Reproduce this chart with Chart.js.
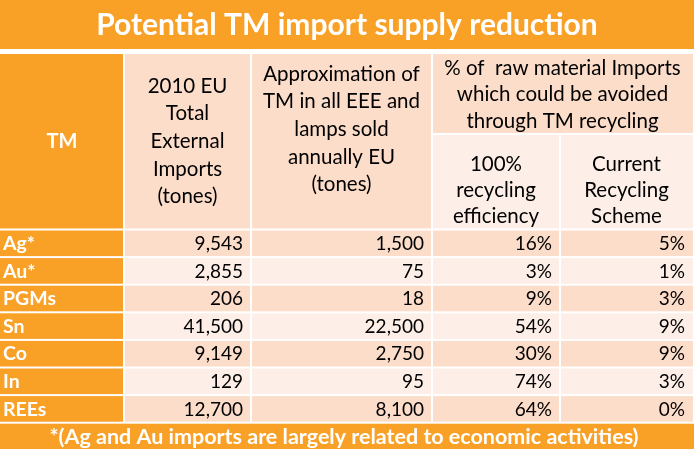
<!DOCTYPE html>
<html>
<head>
<meta charset="utf-8">
<script src="https://cdn.jsdelivr.net/npm/chart.js@4"></script>
<style>
  html, body { margin: 0; padding: 0; background: #fff; }
  #wrap { width: 694px; height: 449px; }
</style>
</head>
<body>
<div id="wrap"><canvas id="myChart" width="694" height="449"></canvas></div>
<script>
// Table data
const title = 'Potential TM import supply reduction';
const footnote = '*(Ag and Au imports are largely related to economic activities)';
const categories = ['Ag*', 'Au*', 'PGMs', 'Sn', 'Co', 'In', 'REEs'];
const imports2010 = [9543, 2855, 206, 41500, 9149, 129, 12700];
const eeeTonnes = [1500, 75, 18, 22500, 2750, 95, 8100];
const pctFull = [16, 3, 9, 54, 30, 74, 64];
const pctCurrent = [5, 1, 3, 9, 9, 3, 0];

const headTM = ['TM'];
const headImports = ['2010 EU', 'Total', 'External', 'Imports', '(tones)'];
const headEEE = ['Approximation of', 'TM in all EEE and', 'lamps sold', 'annually EU', '(tones)'];
const headPct = ['% of  raw material Imports', 'which could be avoided', 'through TM recycling'];
const headFull = ['100%', 'recycling', 'efficiency'];
const headCurrent = ['Current', 'Recycling', 'Scheme'];

// layout (in the scale's units)
const colEdges = [0, 124, 251, 432, 560, 693];
const titleBottom = 49;
const headTop = 54, headMid = 134, headBottom = 229.5;
const rowH = 27.6;
const footTop = headBottom + rowH * categories.length;

const ORANGE = '#F9A026';
const PEACH = '#FCDDCA';
const LIGHT = '#FDEFE7';
const FONT = 'Lato, "Open Sans", sans-serif';

const tablePlugin = {
  id: 'tablePlugin',
  afterDraw(chart) {
    const ctx = chart.ctx;
    const xs = chart.scales.x, ys = chart.scales.y;
    const px = v => xs.getPixelForValue(v);
    const py = v => ys.getPixelForValue(v);

    function rect(x0, x1, y0, y1, color) {
      ctx.fillStyle = color;
      ctx.fillRect(px(x0), py(y0), px(x1) - px(x0), py(y1) - py(y0));
    }
    function text(str, x, y, align, font, color) {
      ctx.font = font;
      ctx.fillStyle = color;
      ctx.textAlign = align;
      ctx.textBaseline = 'middle';
      ctx.fillText(str, px(x), py(y));
    }
    function lines(arr, x, y0, step, font, color) {
      arr.forEach((s, i) => text(s, x, y0 + i * step, 'center', font, color));
    }

    ctx.save();
    // title bar
    rect(0, 694, 0, titleBottom, ORANGE);
    text(title, 347, 25, 'center', 'bold 30px ' + FONT, '#fff');

    // header cells
    const g = 1;
    rect(colEdges[0], colEdges[1] - g, headTop, headBottom - g, ORANGE);
    rect(colEdges[1] + g, colEdges[2] - g, headTop, headBottom - g, PEACH);
    rect(colEdges[2] + g, colEdges[3] - g, headTop, headBottom - g, PEACH);
    rect(colEdges[3] + g, colEdges[5], headTop, headMid - g, PEACH);
    rect(colEdges[3] + g, colEdges[4] - g, headMid + g, headBottom - g, LIGHT);
    rect(colEdges[4] + g, colEdges[5], headMid + g, headBottom - g, LIGHT);

    const hf = '20.5px ' + FONT;
    const bf = '19px ' + FONT;
    text(headTM[0], (colEdges[0] + colEdges[1]) / 2, 142, 'center', 'bold 20px ' + FONT, '#fff');
    lines(headImports, (colEdges[1] + colEdges[2]) / 2, 86, 27.7, hf, '#000');
    lines(headEEE, (colEdges[2] + colEdges[3]) / 2, 74, 27.7, hf, '#000');
    lines(headPct, (colEdges[3] + colEdges[5]) / 2, 68, 26.5, hf, '#000');
    lines(headFull, (colEdges[3] + colEdges[4]) / 2, 164, 26, hf, '#000');
    lines(headCurrent, (colEdges[4] + colEdges[5]) / 2, 164, 26, hf, '#000');

    // body rows
    const fmt = n => n.toLocaleString('en-US');
    categories.forEach((cat, i) => {
      const y0 = headBottom + i * rowH + g;
      const y1 = headBottom + (i + 1) * rowH - g;
      const yc = (y0 + y1) / 2 + 0.5;
      const bg = i % 2 === 0 ? PEACH : LIGHT;
      rect(colEdges[0], colEdges[1] - g, y0, y1, ORANGE);
      for (let c = 1; c < 5; c++) {
        rect(colEdges[c] + g, c === 4 ? colEdges[5] : colEdges[c + 1] - g, y0, y1, bg);
      }
      text(cat, 3, yc, 'left', 'bold 19.5px ' + FONT, '#fff');
      const vals = [fmt(imports2010[i]), fmt(eeeTonnes[i]), pctFull[i] + '%', pctCurrent[i] + '%'];
      vals.forEach((v, k) => {
        const right = k === 3 ? colEdges[5] - 8 : colEdges[k + 2] - 8;
        text(v, right, yc, 'right', bf, '#000');
      });
    });

    // footer
    rect(0, 694, footTop + g, 449, ORANGE);
    text(footnote, 344, 437, 'center', 'bold 21.5px ' + FONT, '#fff');
    ctx.restore();
  }
};

const ctx = document.getElementById('myChart').getContext('2d');
const myChart = new Chart(ctx, {
  type: 'scatter',
  data: { datasets: [{ data: [] }] },
  options: {
    responsive: false,
    animation: false,
    layout: { padding: 0 },
    plugins: { legend: { display: false }, tooltip: { enabled: false } },
    scales: {
      x: { type: 'linear', min: 0, max: 694, display: false },
      y: { type: 'linear', min: 0, max: 449, reverse: true, display: false }
    }
  },
  plugins: [tablePlugin]
});
</script>
</body>
</html>
